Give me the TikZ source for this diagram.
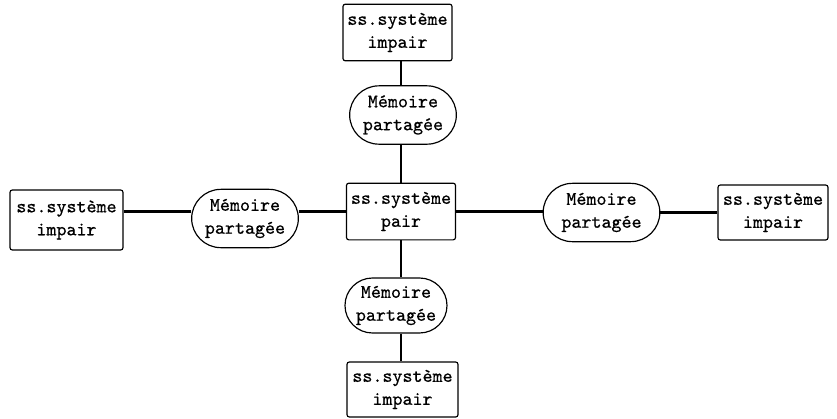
\documentclass[tikz,border=0pt]{standalone}
\usepackage{fontspec}
\newfontfamily\machine[FakeBold=0.6]{lmmono10-regular.otf}
\usepackage{tikz}
\usetikzlibrary{shapes,arrows,positioning}

\begin{document}
\begin{tikzpicture}[x=0.03cm, y=-0.03cm, auto]
    \tikzstyle{sysbox} = [rectangle, rounded corners=2pt, draw, line width=1pt, minimum width=3.27cm, minimum height=1.7cm, inner sep=0pt, align=center, font=\machine\fontsize{16.3}{19.6}\selectfont]
    \tikzstyle{memoire} = [rounded rectangle, draw, line width=1pt, minimum width=3.2cm, minimum height=1.75cm, inner sep=0pt, align=center, font=\machine\fontsize{16.3}{19.6}\selectfont]
    \tikzstyle{line} = [line width=2pt]

    \useasboundingbox (0,0) rectangle (837,419);

    \node (pair) [sysbox] at (401,211.5) {ss.système\\pair};

    \node (memhaut) [memoire] at (403,115) {Mémoire\\partagée};
    \node (memgauche) [memoire] at (245,218.5) {Mémoire\\partagée};
    \node (memdroite) [memoire, minimum width=3.5cm] at (601.5,212.5) {Mémoire\\partagée};
    \node (membas) [memoire, minimum width=3.06cm, minimum height=1.65cm] at (396,305.5) {Mémoire\\partagée};

    \node (imphaut) [sysbox] at (397.5,32.5) {ss.système\\impair};
    \node (impgauche) [sysbox, minimum width=3.39cm, minimum height=1.8cm] at (66.5,220) {ss.système\\impair};
    \node (impdroite) [sysbox, minimum width=3.3cm, minimum height=1.65cm] at (773,212.5) {ss.système\\impair};
    \node (impbas) [sysbox, minimum width=3.33cm, minimum height=1.65cm] at (402.5,389.5) {ss.système\\impair};

    \draw [line] (imphaut.south -| pair.north) -- (memhaut.north -| pair.north);
    \draw [line] (memhaut.south -| pair.north) -- (pair.north);
    \draw [line] (pair.south) -- (membas.north -| pair.south);
    \draw [line] (membas.south -| pair.south) -- (impbas.north -| pair.south);
    \draw [line] (impgauche.east |- pair.west) -- (memgauche.west |- pair.west);
    \draw [line] (memgauche.east |- pair.west) -- (pair.west);
    \draw [line] (pair.east) -- (memdroite.west |- pair.east);
    \draw [line] (memdroite.east) -- (impdroite.west |- memdroite.east);
\end{tikzpicture}
\end{document}
